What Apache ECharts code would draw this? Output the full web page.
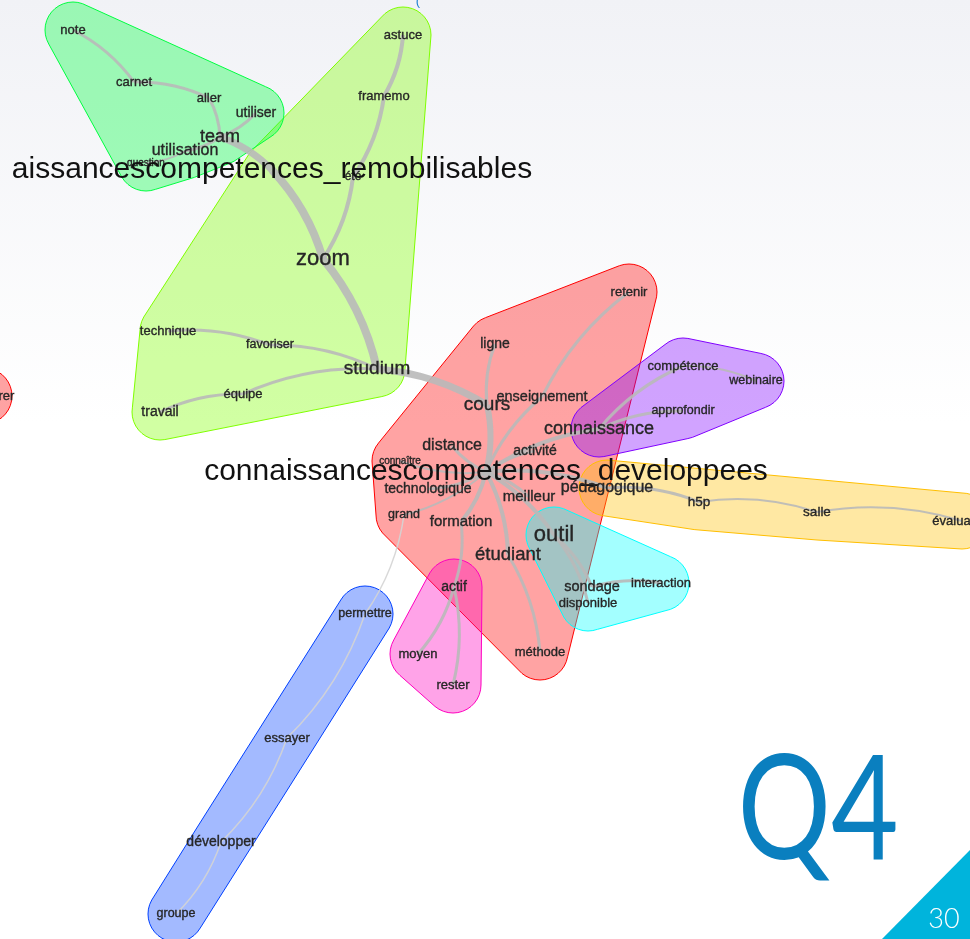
<!DOCTYPE html>
<html>
<head>
<meta charset="utf-8">
<script src="https://cdn.jsdelivr.net/npm/echarts@6/dist/echarts.min.js"></script>
<style>
  html, body { margin: 0; padding: 0; background: #fff; }
  #chart { width: 970px; height: 939px; }
</style>
</head>
<body>
<div id="chart"></div>
<script>
// words of the similarity graph, their place in the layout, frequency and group
const words = [
  "note", "carnet", "aller", "utiliser", "team", "utilisation", "question",
  "astuce", "framemo", "été", "aissancescompetences_remobilisables", "zoom", "studium",
  "technique", "favoriser", "équipe", "travail",
  "retenir", "ligne", "enseignement", "cours", "distance", "activité", "connaître",
  "connaissancescompetences_developpees", "technologique", "meilleur", "grand", "formation",
  "étudiant", "méthode",
  "connaissance", "compétence", "webinaire", "approfondir",
  "pédagogique", "h5p", "salle", "évaluation",
  "outil", "sondage", "interaction", "disponible",
  "actif", "moyen", "rester",
  "permettre", "essayer", "développer", "groupe",
  "considérer"
];
const posX = [
  73, 134, 209, 256, 220, 185, 146,
  403, 384, 353, 272, 323, 377,
  168, 270, 243, 160,
  629, 495, 542, 487, 452, 535, 400,
  486, 428, 529, 404, 461,
  508, 540,
  599, 683, 756, 683,
  607, 699, 817, 962,
  554, 592, 661, 588,
  454, 418, 453,
  365, 287, 221, 176,
  -16
];
const posY = [
  30, 82, 98, 113, 137, 151, 163,
  35, 96, 177, 170, 259, 369,
  331, 345, 394, 412,
  292, 344, 397, 405, 446, 451, 461,
  472, 489, 497, 515, 522,
  555, 652,
  429, 366, 381, 411,
  488, 502, 512, 521,
  535, 587, 583, 603,
  587, 654, 685,
  614, 738, 842, 914,
  396
];
const freq = [
  13, 13, 13, 14, 18, 16, 10,
  13, 13, 12, 30, 22, 19,
  13, 12.5, 13, 14,
  13, 14, 14.5, 19, 16, 14, 10,
  30, 14, 15, 12.5, 15,
  18.5, 13,
  18, 13, 12.5, 12.5,
  16, 13.5, 13.5, 13,
  22, 14.5, 13, 13,
  14, 13, 13,
  12.5, 13, 14, 12.5,
  13
];
// 0 red, 1 orange, 2 lime, 3 green, 4 cyan, 5 blue, 6 purple, 7 magenta, 8 cut-off group
const group = [
  3, 3, 3, 3, 3, 3, 3,
  2, 2, 2, 2, 2, 2,
  2, 2, 2, 2,
  0, 0, 0, 0, 0, 0, 0,
  0, 0, 0, 0, 0,
  0, 0,
  6, 6, 6, 6,
  1, 1, 1, 1,
  4, 4, 4, 4,
  7, 7, 7,
  5, 5, 5, 5,
  8
];

// edges of the tree: source, target, co-occurrence strength
const linkFrom = [
  "note", "carnet", "aller", "utiliser", "team", "utilisation", "team",
  "aissancescompetences_remobilisables", "astuce", "framemo", "été", "zoom",
  "technique", "favoriser", "travail", "équipe", "studium",
  "cours", "cours", "connaissancescompetences_developpees", "enseignement",
  "connaissancescompetences_developpees", "connaissancescompetences_developpees",
  "connaissancescompetences_developpees", "connaissancescompetences_developpees",
  "connaissancescompetences_developpees", "connaissancescompetences_developpees",
  "connaissancescompetences_developpees", "connaissancescompetences_developpees",
  "étudiant", "formation", "actif", "actif",
  "connaissancescompetences_developpees", "outil", "outil", "sondage",
  "connaissancescompetences_developpees", "connaissance", "connaissance", "compétence",
  "connaissancescompetences_developpees", "pédagogique", "h5p", "salle",
  "grand", "permettre", "essayer", "développer"
];
const linkTo = [
  "carnet", "aller", "team", "team", "utilisation", "question", "aissancescompetences_remobilisables",
  "zoom", "framemo", "été", "zoom", "studium",
  "favoriser", "studium", "équipe", "studium", "cours",
  "connaissancescompetences_developpees", "ligne", "enseignement", "retenir",
  "distance", "activité",
  "connaître", "technologique",
  "meilleur", "grand",
  "formation", "étudiant",
  "méthode", "actif", "moyen", "rester",
  "outil", "disponible", "sondage", "interaction",
  "connaissance", "compétence", "approfondir", "webinaire",
  "pédagogique", "h5p", "salle", "évaluation",
  "permettre", "essayer", "développer", "groupe"
];
const linkWeight = [
  3, 3, 3, 3, 3, 2, 7,
  8, 4, 4, 4, 8,
  3, 3, 3, 3, 7,
  6, 3, 3, 3,
  3, 3,
  2, 3,
  3, 2,
  4, 4,
  3, 3, 3, 3,
  4, 3, 3, 3,
  4, 3, 3, 2,
  4, 3, 2, 2,
  1, 1, 1, 1
];

// igraph rainbow palette used for the halos
const palette = ["#FF0000", "#FFBF00", "#80FF00", "#00FF40", "#00FFFF", "#0040FF", "#8000FF", "#FF00BF", "#FF0000"];
const HALO_PAD = 28;

function hexToRgba(hex, a) {
  const n = parseInt(hex.slice(1), 16);
  return `rgba(${(n >> 16) & 255},${(n >> 8) & 255},${n & 255},${a})`;
}

// monotone chain convex hull
function convexHull(points) {
  const p = points.slice().sort((a, b) => a[0] - b[0] || a[1] - b[1]);
  const cross = (o, a, b) => (a[0] - o[0]) * (b[1] - o[1]) - (a[1] - o[1]) * (b[0] - o[0]);
  const lower = [];
  for (const pt of p) {
    while (lower.length >= 2 && cross(lower[lower.length - 2], lower[lower.length - 1], pt) <= 0) lower.pop();
    lower.push(pt);
  }
  const upper = [];
  for (let i = p.length - 1; i >= 0; i--) {
    const pt = p[i];
    while (upper.length >= 2 && cross(upper[upper.length - 2], upper[upper.length - 1], pt) <= 0) upper.pop();
    upper.push(pt);
  }
  upper.pop();
  lower.pop();
  return lower.concat(upper);
}

// hull of the group grown by a circle of radius r
function paddedHull(pts, r) {
  const cand = [];
  pts.forEach((pt) => {
    for (let k = 0; k < 36; k++) {
      const a = (k / 36) * Math.PI * 2;
      cand.push([pt[0] + r * Math.cos(a), pt[1] + r * Math.sin(a)]);
    }
  });
  return convexHull(cand);
}

const groupIds = [0, 1, 2, 3, 4, 5, 6, 7, 8];

const nodes = words.map((w, i) => {
  const big = freq[i] >= 25;
  const col = big ? "#111" : "#262626";
  return {
    name: w,
    value: [posX[i], posY[i]],
    label: {
      fontSize: freq[i],
      color: col,
      textBorderColor: big ? "transparent" : col,
      textBorderWidth: big ? 0 : 0.35,
    },
  };
});

const links = linkFrom.map((s, i) => ({
  source: s,
  target: linkTo[i],
  lineStyle: {
    width: linkWeight[i] <= 1 ? 1.5 : linkWeight[i],
    color: linkWeight[i] <= 1 ? "#d4d4d4" : "#b9b9b9",
  },
}));

const chart = echarts.init(document.getElementById("chart"));

const option = {
  animation: false,
  backgroundColor: {
    type: "linear",
    x: 0, y: 0, x2: 0, y2: 1,
    colorStops: [
      { offset: 0, color: "#f1f2f6" },
      { offset: 0.45, color: "#ffffff" },
      { offset: 1, color: "#ffffff" },
    ],
  },
  grid: { left: 0, right: 0, top: 0, bottom: 0 },
  xAxis: { type: "value", min: 0, max: 970, show: false },
  yAxis: { type: "value", min: 0, max: 939, inverse: true, show: false },
  graphic: [
    {
      type: "polygon",
      shape: { points: [[882, 939], [970, 850], [970, 939]] },
      style: { fill: "#00b4dc" },
      z: 10,
    },
    {
      type: "text",
      x: 944, y: 919,
      style: {
        text: "30", fill: "#ffffff", font: "300 27px Lato, 'Open Sans', sans-serif",
        textAlign: "center", textVerticalAlign: "middle",
      },
      z: 11,
    },
    {
      type: "text",
      x: 818, y: 812,
      scaleX: 0.8,
      style: {
        text: "Q4", fill: "#0a7fbf", font: "400 146px Lato, 'Open Sans', sans-serif",
        textAlign: "center", textVerticalAlign: "middle",
      },
      z: 10,
    },
    {
      type: "text",
      x: 418, y: 1,
      style: { text: "(", fill: "#1a7fd0", font: "13px 'Liberation Sans', sans-serif", textAlign: "center", textVerticalAlign: "middle" },
      z: 10,
    },
  ],
  series: [
    {
      type: "custom",
      coordinateSystem: "cartesian2d",
      silent: true,
      z: 1,
      data: groupIds.map((g) => [g, g]),
      renderItem: (params, api) => {
        const g = groupIds[params.dataIndex];
        const pts = [];
        group.forEach((gi, i) => {
          if (gi === g) pts.push(api.coord([posX[i], posY[i]]));
        });
        if (!pts.length) return;
        const hull = paddedHull(pts, HALO_PAD);
        return {
          type: "polygon",
          shape: { points: hull },
          style: {
            fill: hexToRgba(palette[g], 0.36),
            stroke: palette[g],
            lineWidth: 1,
          },
        };
      },
    },
    {
      type: "graph",
      coordinateSystem: "cartesian2d",
      layout: "none",
      z: 3,
      symbol: "circle",
      symbolSize: 0,
      silent: true,
      data: nodes,
      links: links,
      lineStyle: { opacity: 0.9, curveness: 0.12 },
      label: {
        show: true,
        position: "inside",
        formatter: "{b}",
        fontFamily: "'Liberation Sans', Arial, sans-serif",
      },
    },
  ],
};

chart.setOption(option);
</script>
</body>
</html>
